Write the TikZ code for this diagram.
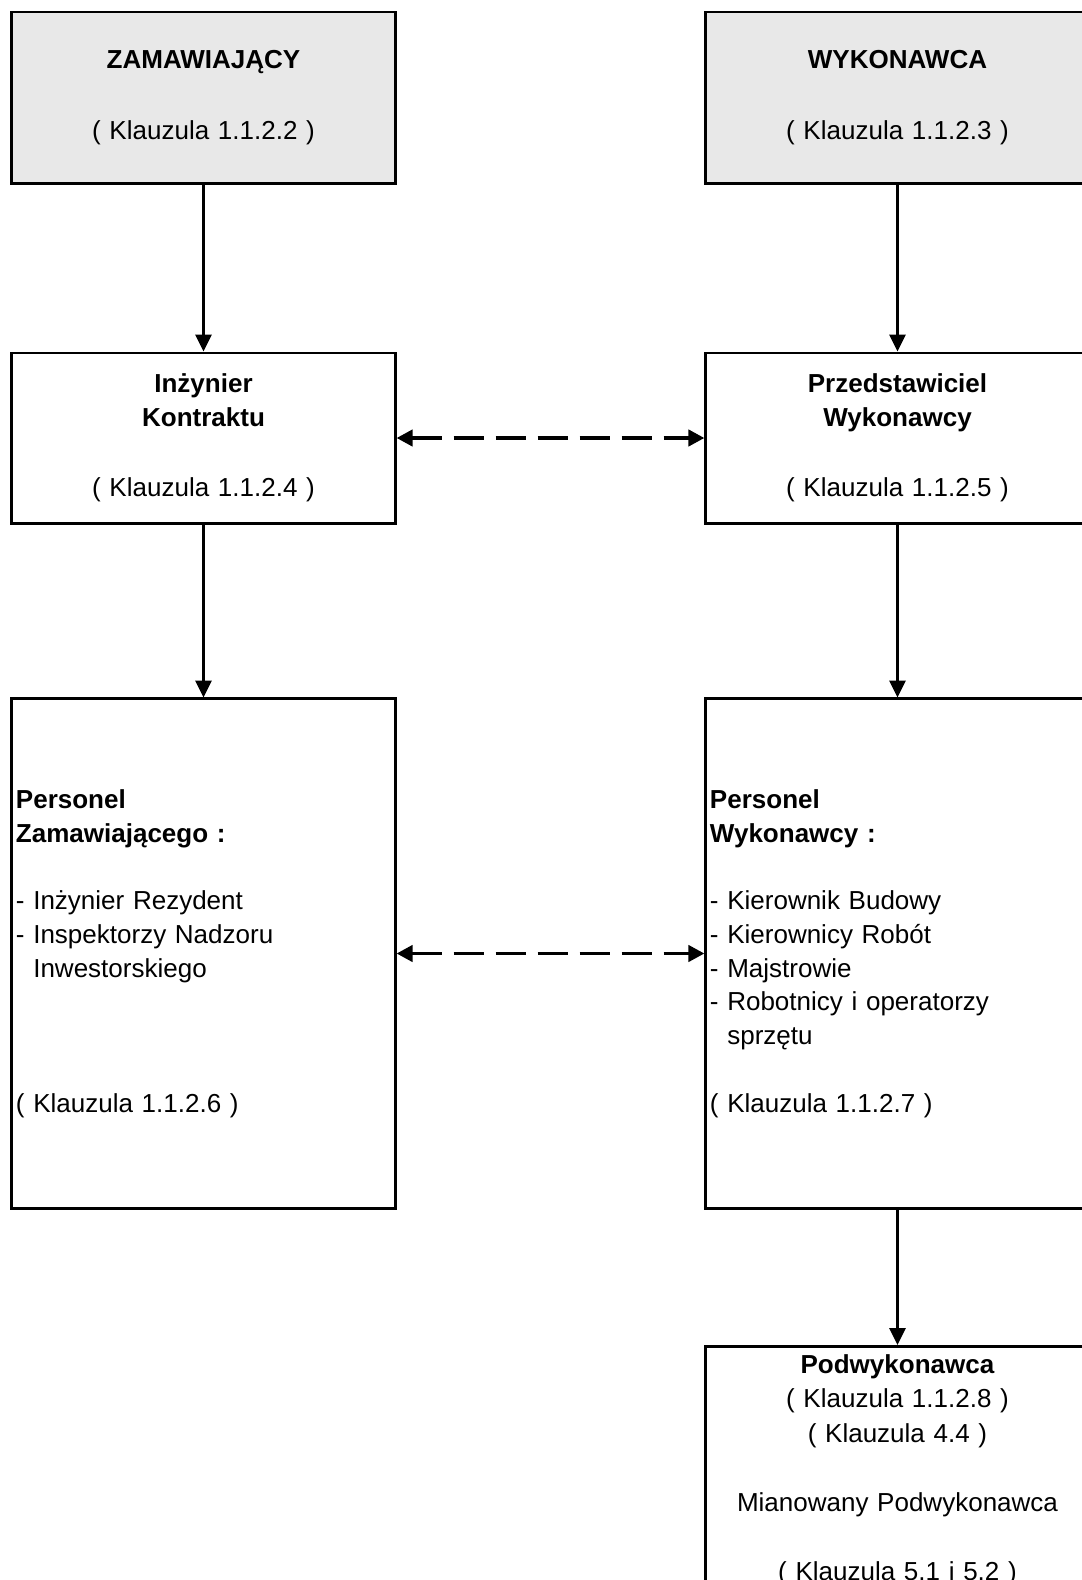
\documentclass[tikz,border=0pt]{standalone}
\usepackage{fontspec}
\setmainfont{Liberation Sans}
\usetikzlibrary{arrows.meta}

\tikzset{
  box/.style={draw, line width=2.1pt, text width=9.375cm, inner xsep=0.1cm, inner ysep=0pt,
    font=\fontsize{18.5pt}{24pt}\selectfont},
  party/.style={box, fill=black!9, align=center, minimum height=4.275cm},
  agent/.style={box, align=center, minimum height=4.25cm},
  staff/.style={box, align=left, minimum height=12.725cm},
  link/.style={line width=1.7pt, -{Triangle[length=0.42cm, width=0.4cm]}},
  talk/.style={line width=2.8pt, dash pattern=on 0.75cm off 0.3cm,
    {Triangle[length=0.4cm, width=0.4cm]}-{Triangle[length=0.4cm, width=0.4cm]}}
}

\begin{document}
\begin{tikzpicture}[x=0.025cm, y=-0.025cm]
\useasboundingbox (0,0) rectangle (1082,1580);
\clip (0,0) rectangle (1082,1580);

\node[party] (zam) at (203.5,97.5) {\textbf{ZAMAWIAJĄCY}\\[26pt]( Klauzula 1.1.2.2 )};
\node[party] (wyk) at (897.5,97.5) {\textbf{WYKONAWCA}\\[26pt]( Klauzula 1.1.2.3 )};

\node[agent] (inz) at (203.5,438) {\textbf{Inżynier}\\\textbf{Kontraktu}\\[26pt]( Klauzula 1.1.2.4 )};
\node[agent] (prz) at (897.5,438) {\textbf{Przedstawiciel}\\\textbf{Wykonawcy}\\[26pt]( Klauzula 1.1.2.5 )};

\node[staff] (perzam) at (203.5,953.5) {\textbf{Personel}\\
  \textbf{Zamawiającego :}\\[24pt]
  - Inżynier Rezydent\\
  - Inspektorzy Nadzoru\\
  \hphantom{- }Inwestorskiego\\[72pt]
  ( Klauzula 1.1.2.6 )};
\node[staff] (perwyk) at (897.5,953.5) {\textbf{Personel}\\
  \textbf{Wykonawcy :}\\[24pt]
  - Kierownik Budowy\\
  - Kierownicy Robót\\
  - Majstrowie\\
  - Robotnicy i operatorzy\\
  \hphantom{- }sprzętu\\[24pt]
  ( Klauzula 1.1.2.7 )};

\node[box, align=center, anchor=north, inner ysep=0.2cm, font=\fontsize{18.5pt}{24.5pt}\selectfont]
  (podw) at (897.5,1345) {\textbf{Podwykonawca}\\
  ( Klauzula 1.1.2.8 )\\
  ( Klauzula 4.4 )\\[24.5pt]
  Mianowany Podwykonawca\\[24.5pt]
  ( Klauzula 5.1 i 5.2 )};

\draw[link] (zam) -- (inz);
\draw[link] (wyk) -- (prz);
\draw[link] (inz) -- (perzam);
\draw[link] (prz) -- (perwyk);
\draw[link] (perwyk) -- (podw);

\draw[talk] (inz.east) -- (prz.west);
\draw[talk] (perzam.east) -- (perwyk.west);
\end{tikzpicture}
\end{document}
